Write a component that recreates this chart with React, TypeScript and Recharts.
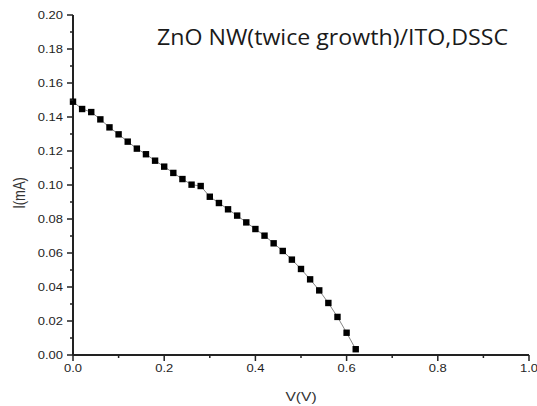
import { LineChart, Line, XAxis, YAxis } from 'recharts';

// I-V curve
const voltage = [
  0, 0.02, 0.04, 0.06, 0.08, 0.1, 0.12, 0.14, 0.16, 0.18, 0.2, 0.22, 0.24, 0.26, 0.28, 0.3,
  0.32, 0.34, 0.36, 0.38, 0.4, 0.42, 0.44, 0.46, 0.48, 0.5, 0.52, 0.54, 0.56, 0.58, 0.6, 0.62,
];
const current = [
  0.149, 0.1447, 0.1429, 0.1386, 0.1339, 0.1298, 0.1255, 0.1214, 0.1181, 0.1143, 0.1108, 0.1071,
  0.1035, 0.1002, 0.0994, 0.0931, 0.0894, 0.0857, 0.082, 0.078, 0.0741, 0.0702, 0.0657, 0.0612,
  0.0561, 0.0506, 0.0445, 0.038, 0.0306, 0.0224, 0.0131, 0.0034,
];

// major + minor tick positions
const xTicks = [0, 0.1, 0.2, 0.3, 0.4, 0.5, 0.6, 0.7, 0.8, 0.9, 1.0];
const yTicks = [
  0, 0.01, 0.02, 0.03, 0.04, 0.05, 0.06, 0.07, 0.08, 0.09, 0.1, 0.11, 0.12, 0.13, 0.14, 0.15,
  0.16, 0.17, 0.18, 0.19, 0.2,
];

const title = 'ZnO NW(twice growth)/ITO,DSSC';
const xLabel = 'V(V)';
const yLabel = 'I(mA)';

const data = voltage.map((v, i) => ({ v, i: current[i] }));

const axisColor = '#222';
const tickFont = '"Liberation Sans", Arial, sans-serif';

const XTick = (props: any) => {
  const { x, y, payload, index } = props;
  const major = index % 2 === 0;
  return (
    <g>
      <line x1={x} x2={x} y1={y} y2={y + (major ? 6 : 3)} stroke={axisColor} strokeWidth={1.5} />
      {major && (
        <text
          transform={`translate(${x},${y + 17}) scale(1.3,1)`}
          textAnchor="middle"
          fontSize={10}
          fontFamily={tickFont}
          fill="#1e1e1e"
        >
          {Number(payload.value).toFixed(1)}
        </text>
      )}
    </g>
  );
};

const YTick = (props: any) => {
  const { x, y, payload, index } = props;
  const major = index % 2 === 0;
  return (
    <g>
      <line x1={x} x2={x - (major ? 6 : 3)} y1={y} y2={y} stroke={axisColor} strokeWidth={1.5} />
      {major && (
        <text
          transform={`translate(${x - 10},${y + 3.5}) scale(1.3,1)`}
          textAnchor="end"
          fontSize={10}
          fontFamily={tickFont}
          fill="#1e1e1e"
        >
          {Number(payload.value).toFixed(2)}
        </text>
      )}
    </g>
  );
};

const SquareDot = (props: any) => {
  const { cx, cy } = props;
  if (cx == null || cy == null) return <g />;
  return <rect x={cx - 3.2} y={cy - 3.2} width={6.4} height={6.4} fill="#000" />;
};

export default function App() {
  return (
    <div style={{ position: 'absolute', left: 0, top: 0, width: 537, height: 406, background: '#fff' }}>
      <LineChart width={537} height={406} data={data} margin={{ top: 15, right: 8, bottom: 0, left: 0 }}>
        <XAxis
          dataKey="v"
          type="number"
          domain={[0, 1]}
          ticks={xTicks}
          interval={0}
          height={51}
          tickSize={0}
          tickMargin={0}
          tickLine={false}
          axisLine={{ stroke: axisColor, strokeWidth: 2 }}
          tick={<XTick />}
        />
        <YAxis
          dataKey="i"
          type="number"
          domain={[0, 0.2]}
          ticks={yTicks}
          interval={0}
          width={73}
          tickSize={0}
          tickMargin={0}
          tickLine={false}
          axisLine={{ stroke: axisColor, strokeWidth: 2 }}
          tick={<YTick />}
        />
        <Line
          dataKey="i"
          type="linear"
          stroke="#666"
          strokeWidth={0.8}
          dot={<SquareDot />}
          activeDot={false}
          isAnimationActive={false}
        />
      </LineChart>
      <svg
        width={537}
        height={406}
        style={{ position: 'absolute', left: 0, top: 0, pointerEvents: 'none' }}
      >
        <text
          x={157}
          y={45}
          fontSize={22}
          fontFamily='"Open Sans", "Noto Sans", sans-serif'
          fill="#1a1a1a"
          textLength={351}
          lengthAdjust="spacingAndGlyphs"
        >
          {title}
        </text>
        <text
          transform="translate(301,401) scale(1.3,1)"
          textAnchor="middle"
          fontSize={12}
          fontFamily={tickFont}
          fill="#333"
        >
          {xLabel}
        </text>
        <text
          transform="translate(25,193) rotate(-90) scale(1,1.3)"
          textAnchor="middle"
          fontSize={13}
          fontFamily={tickFont}
          fill="#333"
        >
          {yLabel}
        </text>
      </svg>
    </div>
  );
}
